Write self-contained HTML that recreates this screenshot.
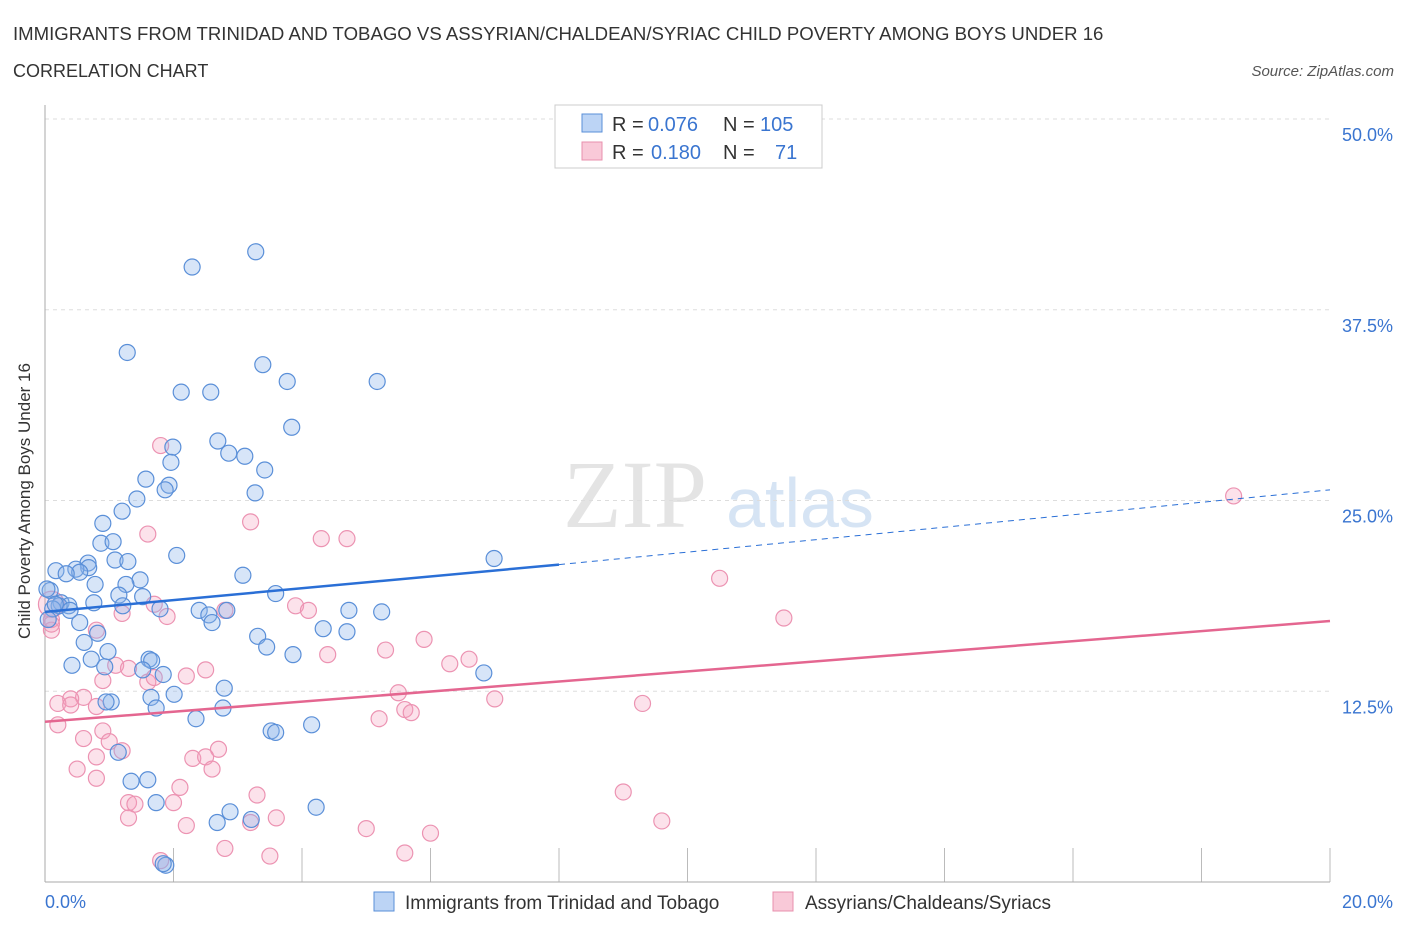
<!DOCTYPE html>
<html><head><meta charset="utf-8"><style>
body{margin:0;background:#fff;font-family:"Liberation Sans",sans-serif;}
</style></head><body>
<svg width="1406" height="930" xmlns="http://www.w3.org/2000/svg" id="chart">
<text x="13" y="40" font-size="18.6" fill="#333">IMMIGRANTS FROM TRINIDAD AND TOBAGO VS ASSYRIAN/CHALDEAN/SYRIAC CHILD POVERTY AMONG BOYS UNDER 16</text>
<text x="13" y="77" font-size="18" fill="#333">CORRELATION CHART</text>
<text x="1394" y="76" font-size="15" fill="#555" font-style="italic" text-anchor="end">Source: ZipAtlas.com</text>
<text x="635" y="527" font-size="96" fill="#e4e4e4" font-family="Liberation Serif" text-anchor="middle">ZIP</text>
<text x="800" y="527" font-size="70" fill="#d6e4f4" text-anchor="middle">atlas</text>
<g id="grid"></g>
<line x1="45" y1="105" x2="45" y2="882" stroke="#aaa"/>
<line x1="45" y1="882" x2="1330" y2="882" stroke="#aaa"/>
<text x="24" y="495" font-size="17" fill="#333" text-anchor="middle" transform="rotate(-90 30 495)">Child Poverty Among Boys Under 16</text>
<text x="45" y="908" font-size="18" fill="#3a75d0">0.0%</text>
<text x="1393" y="908" font-size="18" fill="#3a75d0" text-anchor="end">20.0%</text>
<g id="pts"></g>
<g id="lines"></g>
<rect x="555" y="105" width="267" height="63" fill="#fff" stroke="#ccc"/>
<rect x="582" y="114" width="20" height="18" fill="#bcd4f5" stroke="#5a8fd8"/>
<rect x="582" y="142" width="20" height="18" fill="#f9c9d8" stroke="#e890ae"/>
<g font-size="20" fill="#333">
<text x="612" y="131">R =</text><text x="648" y="131" fill="#3a75d0">0.076</text>
<text x="723" y="131">N =</text><text x="760" y="131" fill="#3a75d0">105</text>
<text x="612" y="159">R =</text><text x="651" y="159" fill="#3a75d0">0.180</text>
<text x="723" y="159">N =</text><text x="775" y="159" fill="#3a75d0">71</text>
</g>
<rect x="374" y="892" width="20" height="19" fill="#bcd4f5" stroke="#5a8fd8"/>
<text x="405" y="909" font-size="19" fill="#333">Immigrants from Trinidad and Tobago</text>
<rect x="773" y="892" width="20" height="19" fill="#f9c9d8" stroke="#e890ae"/>
<text x="805" y="909" font-size="19" fill="#333">Assyrians/Chaldeans/Syriacs</text>
</svg>
<script>
const yTicks=[12.5,25,37.5,50];
const blueX=[3.28,2.29,1.28,3.39,3.77,5.17,2.12,2.58,3.84,2.69,1.99,2.86,3.11,1.96,3.42,1.57,1.93,1.87,3.27,1.43,1.20,0.90,0.87,1.06,2.05,6.99,1.09,1.29,0.67,0.68,0.48,0.54,0.17,0.33,3.08,1.48,0.78,1.26,0.08,1.15,3.59,1.52,0.25,0.37,0.76,0.22,1.21,0.12,2.40,2.83,4.73,5.24,1.79,0.39,2.55,2.60,0.54,4.33,4.70,0.82,3.31,0.61,3.45,0.98,3.86,1.62,1.66,0.72,0.42,0.93,1.52,1.84,6.83,2.79,2.01,1.65,1.03,0.95,2.77,1.73,2.35,4.15,3.52,3.59,1.14,1.34,1.60,1.73,4.22,2.88,3.21,2.68,1.88,1.84,0.05,0.03,0.16];
const blueY=[41.3,40.3,34.7,33.9,32.8,32.8,32.1,32.1,29.8,28.9,28.5,28.1,27.9,27.5,27.0,26.4,26.0,25.7,25.5,25.1,24.3,23.5,22.2,22.3,21.4,21.2,21.1,21.0,20.9,20.6,20.5,20.3,20.4,20.2,20.1,19.8,19.5,19.5,19.1,18.8,18.9,18.7,18.3,18.1,18.3,18.1,18.1,17.9,17.8,17.8,17.8,17.7,17.9,17.8,17.5,17.0,17.0,16.6,16.4,16.3,16.1,15.7,15.4,15.1,14.9,14.6,14.5,14.6,14.2,14.1,13.9,13.6,13.7,12.7,12.3,12.1,11.8,11.8,11.4,11.4,10.7,10.3,9.9,9.8,8.5,6.6,6.7,5.2,4.9,4.6,4.1,3.9,1.1,1.2,17.2,19.2,18.2];
const pinkX=[18.5,1.8,3.2,1.6,4.3,4.7,10.5,1.7,11.5,3.9,4.1,2.8,1.2,1.9,0.8,0.1,5.9,5.3,4.4,6.6,6.3,1.1,1.3,2.5,2.2,0.9,1.6,1.7,0.6,5.5,0.4,0.2,0.4,0.8,7.0,9.3,5.6,5.7,5.2,0.2,0.6,0.9,2.7,1.0,1.2,0.8,2.3,2.5,0.5,2.6,0.8,2.1,9.0,3.3,1.3,1.4,2.0,1.3,3.6,9.6,3.2,2.2,5.0,6.0,2.8,3.5,5.6,1.8,0.1,0.1];
const pinkY=[25.3,28.6,23.6,22.8,22.5,22.5,19.9,18.2,17.3,18.1,17.8,17.8,17.6,17.4,16.5,16.5,15.9,15.2,14.9,14.6,14.3,14.2,14.0,13.9,13.5,13.2,13.1,13.4,12.1,12.4,12.0,11.7,11.6,11.5,12.0,11.7,11.3,11.1,10.7,10.3,9.4,9.9,8.7,9.2,8.6,8.2,8.1,8.2,7.4,7.4,6.8,6.2,5.9,5.7,5.2,5.1,5.2,4.2,4.2,4.0,3.9,3.7,3.5,3.2,2.2,1.7,1.9,1.4,17.2,16.9];
const blueTrend=[[0,17.7],[8,20.8],[20,25.7]];
const pinkTrend=[[0,10.5],[20,17.1]];
const NS='http://www.w3.org/2000/svg';
const X=v=>45+v/20*1285, Y=v=>882-v/50*763;
function mk(t,a,p){const e=document.createElementNS(NS,t);for(const k in a)e.setAttribute(k,a[k]);document.getElementById(p).appendChild(e);return e;}
yTicks.forEach(t=>{
 const l=mk('line',{x1:45,x2:1330,y1:Y(t),y2:Y(t),stroke:'#ddd','stroke-dasharray':'4,4'},'grid');
 
 
 const tx=mk('text',{x:1393,y:Y(t)+22,'font-size':18,fill:'#3a75d0','text-anchor':'end'},'grid');
 tx.textContent=t.toFixed(1)+'%';
 
 
});
for(let i=1;i<=10;i++){const l=mk('line',{x1:X(i*2),x2:X(i*2),y1:848,y2:882,stroke:'#bbb'},'grid');
 
 }
const big=mk('circle',{cx:X(0.1),cy:Y(18.2),r:13,fill:'rgba(244,160,190,0.3)',stroke:'#ec93b2','stroke-width':1.2},'pts');


pinkX.forEach((x,i)=>{const c=mk('circle',{cx:X(x),cy:Y(pinkY[i]),r:8,fill:'rgba(244,160,190,0.3)',stroke:'#ec93b2','stroke-width':1.2},'pts');
 
 });
blueX.forEach((x,i)=>{const c=mk('circle',{cx:X(x),cy:Y(blueY[i]),r:8,fill:'rgba(140,180,235,0.35)',stroke:'#5a8fd8','stroke-width':1.2},'pts');
 
 });
let b1=mk('line',{x1:X(blueTrend[0][0]),y1:Y(blueTrend[0][1]),x2:X(blueTrend[1][0]),y2:Y(blueTrend[1][1]),stroke:'#2a6fd6','stroke-width':2.5},'lines');


let b2=mk('line',{x1:X(blueTrend[1][0]),y1:Y(blueTrend[1][1]),x2:X(blueTrend[2][0]),y2:Y(blueTrend[2][1]),stroke:'#2a6fd6','stroke-width':1,'stroke-dasharray':'6,5'},'lines');


let p1=mk('line',{x1:X(pinkTrend[0][0]),y1:Y(pinkTrend[0][1]),x2:X(pinkTrend[1][0]),y2:Y(pinkTrend[1][1]),stroke:'#e46690','stroke-width':2.5},'lines');


</script>
</body></html>
